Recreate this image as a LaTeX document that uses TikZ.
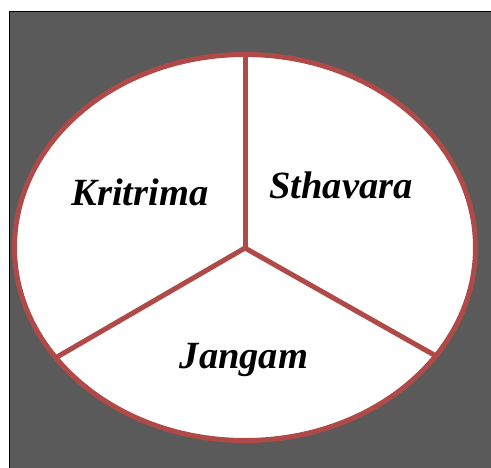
\documentclass[tikz,border=0pt]{standalone}
\usepackage{fontspec}
\setmainfont{Liberation Serif}
\definecolor{bggray}{HTML}{5A5A5A}
\definecolor{rim}{HTML}{B04A48}
\begin{document}
\begin{tikzpicture}[x=1pt,y=-1pt,
  rimline/.style={draw=rim,line width=5pt},
  lbl/.style={font=\fontsize{38.5}{44}\selectfont\bfseries\itshape,anchor=base,inner sep=0pt}]
\useasboundingbox (0,0) rectangle (491,467);
\fill[white] (0,0) rectangle (491,467);
\filldraw[fill=bggray,draw=black,line width=1pt] (9.5,11.5) rectangle (495,472);
\coordinate (c) at (245,248);
\coordinate (top) at (245,54);
\coordinate (lft) at (57,357);
\coordinate (rgt) at (436,356);
\filldraw[fill=white,rimline] (245,247.5) ellipse [x radius=230.5, y radius=193];
\draw[rimline] (c) -- (top);
\draw[rimline] (c) -- (lft);
\draw[rimline] (c) -- (rgt);
\node[lbl] (kr) at (140,205) {Kritrima};
\node[lbl] (st) at (341,198) {Sthavara};
\node[lbl] (ja) at (244,368) {Jangam};
\end{tikzpicture}
\end{document}
